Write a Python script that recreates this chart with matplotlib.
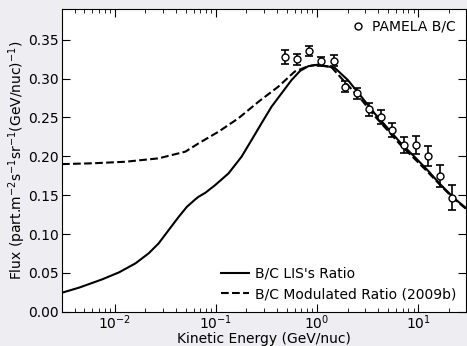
import matplotlib
matplotlib.use("Agg")
import matplotlib.pyplot as plt

# B/C LIS ratio (solid)
lis_energy = [0.0030, 0.00442, 0.0075, 0.011, 0.016, 0.0216, 0.0271, 0.034,
              0.0427, 0.0515, 0.0624, 0.0673, 0.0783, 0.0982, 0.133, 0.179,
              0.225, 0.282, 0.355, 0.445, 0.558, 0.68, 0.82, 1.02, 1.49, 2.02,
              2.74, 3.70, 5.01, 6.76, 9.18, 12.4, 16.8, 22.7, 30.0]
lis_ratio = [0.0245, 0.031, 0.0417, 0.0507, 0.0623, 0.0752, 0.088, 0.105,
             0.122, 0.135, 0.1446, 0.148, 0.153, 0.163, 0.178, 0.1995,
             0.221, 0.2425, 0.264, 0.281, 0.298, 0.310, 0.316, 0.318, 0.314,
             0.298, 0.2767, 0.2553, 0.236, 0.2167, 0.1995, 0.182, 0.163,
             0.146, 0.133]

# B/C modulated ratio (dashed)
mod_energy = [0.0030, 0.006, 0.0127, 0.0271, 0.0498, 0.0673, 0.106, 0.167,
              0.262, 0.413, 0.60, 0.80, 0.948, 1.38, 1.87, 2.74, 3.70, 5.01,
              6.76, 9.18, 12.4, 16.8, 22.7, 30.0]
mod_ratio = [0.190, 0.191, 0.193, 0.1974, 0.206, 0.2167, 0.2317, 0.249,
             0.270, 0.2896, 0.309, 0.3155, 0.3175, 0.315, 0.296, 0.273, 0.252,
             0.233, 0.214, 0.197, 0.180, 0.162, 0.145, 0.132]

# PAMELA B/C data
pam_energy = [0.48, 0.635, 0.83, 1.09, 1.46, 1.89, 2.46, 3.25, 4.24, 5.52,
              7.25, 9.5, 12.5, 16.4, 21.4]
pam_ratio = [0.328, 0.325, 0.3355, 0.322, 0.323, 0.2896, 0.281, 0.2605,
             0.250, 0.234, 0.2145, 0.2145, 0.2008, 0.1747, 0.147]
pam_err = [0.009, 0.0069, 0.0064, 0.0064, 0.0069, 0.0067, 0.007, 0.0086,
           0.009, 0.009, 0.0103, 0.0116, 0.013, 0.014, 0.016]

plt.rcParams["font.size"] = 10

fig = plt.figure(figsize=(4.67, 3.46), dpi=100, facecolor="#eeeef2")
ax = fig.add_axes([0.1328, 0.099, 0.866, 0.876])
ax.set_facecolor("white")

l1, = ax.plot(lis_energy, lis_ratio, color="black", lw=1.5, label="B/C LIS's Ratio")
l2, = ax.plot(mod_energy, mod_ratio, color="black", lw=1.5, ls="--",
              label="B/C Modulated Ratio (2009b)")
pts = ax.errorbar(pam_energy, pam_ratio, yerr=pam_err, fmt="o", mfc="white",
                  mec="black", color="black", ms=5, capsize=3, elinewidth=1.2,
                  capthick=1.2, zorder=5)

ax.set_xscale("log")
ax.set_xlim(3e-3, 30)
ax.set_ylim(0, 0.39)
ax.set_yticks([0.00, 0.05, 0.10, 0.15, 0.20, 0.25, 0.30, 0.35])
ax.tick_params(which="both", direction="in", top=True, right=True)
ax.tick_params(axis="x", which="both", pad=1.5)
ax.tick_params(axis="y", which="both", pad=2.5)
ax.tick_params(which="major", length=5.5)
ax.tick_params(which="minor", length=3)

ax.set_xlabel("Kinetic Energy (GeV/nuc)", labelpad=0)
ax.set_ylabel(r"Flux (part.m$^{-2}$s$^{-1}$sr$^{-1}$(GeV/nuc)$^{-1}$)", labelpad=0)

leg1 = ax.legend([pts[0]], ["PAMELA B/C"], loc="upper right", frameon=False,
                 handlelength=1.0, handletextpad=0.45, borderaxespad=0.4)
ax.add_artist(leg1)
ax.legend([l1, l2], [l1.get_label(), l2.get_label()], loc="lower right",
          frameon=False, handlelength=2.0, handletextpad=0.4, borderaxespad=0.35,
          labelspacing=0.5)

fig.savefig("out.png", dpi=100, facecolor=fig.get_facecolor())
